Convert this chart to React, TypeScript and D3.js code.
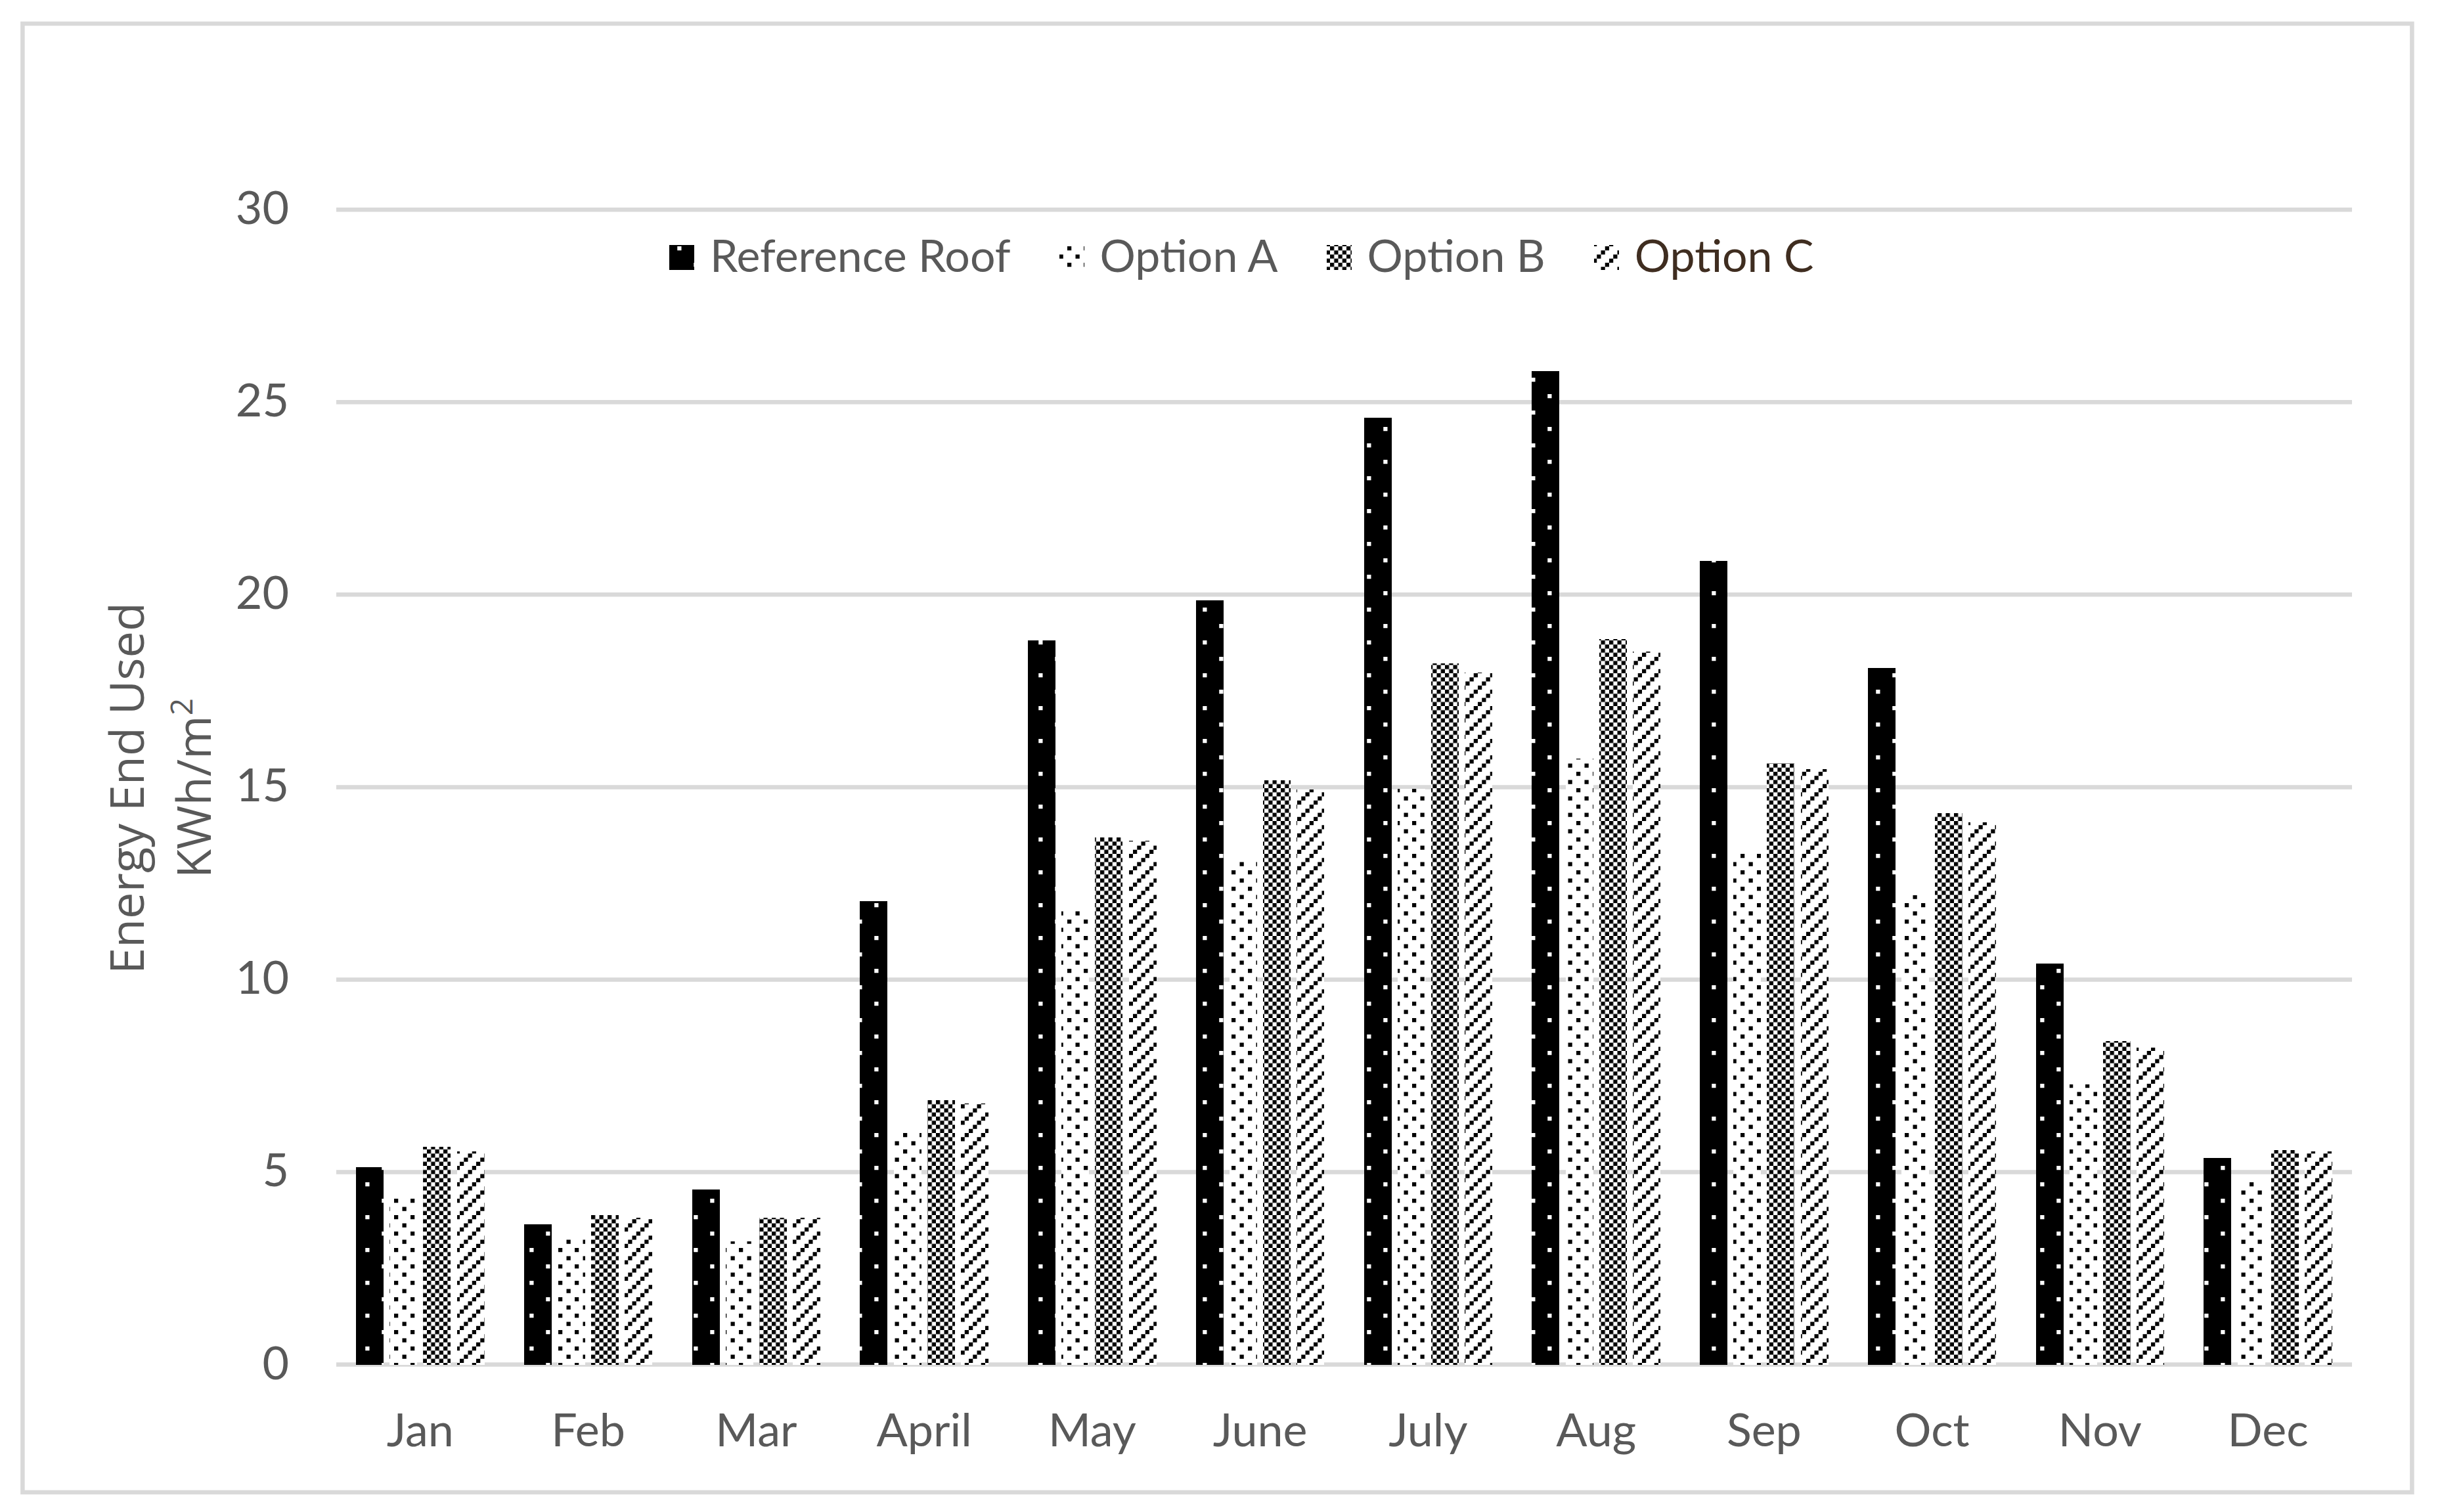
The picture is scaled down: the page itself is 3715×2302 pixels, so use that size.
import React, { useRef, useEffect } from 'react';
import * as d3 from 'd3';

const months = ['Jan', 'Feb', 'Mar', 'April', 'May', 'June', 'July', 'Aug', 'Sep', 'Oct', 'Nov', 'Dec'];
const seriesNames = ['Reference Roof', 'Option A', 'Option B', 'Option C'];
const referenceRoof = [5.13, 3.64, 4.54, 12.03, 18.81, 19.86, 24.59, 25.8, 20.87, 18.09, 10.42, 5.37];
const optionA = [4.35, 3.25, 3.2, 6.06, 11.79, 13.08, 14.95, 15.74, 13.28, 12.19, 7.27, 4.84];
const optionB = [5.65, 3.88, 3.82, 6.86, 13.69, 15.18, 18.21, 18.85, 15.62, 14.33, 8.4, 5.57];
const optionC = [5.53, 3.82, 3.81, 6.78, 13.6, 14.94, 17.97, 18.53, 15.46, 14.09, 8.24, 5.53];
const yTicks = [0, 5, 10, 15, 20, 25, 30];

const W = 3715;
const H = 2302;

const Chart = () => {
  const ref = useRef<SVGSVGElement | null>(null);

  useEffect(() => {
    if (!ref.current) return;
    const svg = d3.select(ref.current);
    svg.selectAll('*').remove();
    svg.attr('width', W).attr('height', H);

    const values = [referenceRoof, optionA, optionB, optionC];
    const textFont = 'Lato, "Open Sans", sans-serif';
    const grey = '#595959';
    const gridColor = '#d9d9d9';

    // 패턴 (Excel 8x8 패턴 흉내)
    const px = 6.25;
    const defs = svg.append('defs');
    const makePattern = (id: string, size: number, bg: string, fg: string, cells: [number, number][]) => {
      const p = defs
        .append('pattern')
        .attr('id', id)
        .attr('patternUnits', 'userSpaceOnUse')
        .attr('width', size * px)
        .attr('height', size * px);
      p.append('rect').attr('width', size * px).attr('height', size * px).attr('fill', bg);
      cells.forEach(([cx, cy]) => {
        p.append('rect')
          .attr('x', cx * px)
          .attr('y', cy * px)
          .attr('width', px)
          .attr('height', px)
          .attr('fill', fg);
      });
    };
    makePattern('pat0', 8, '#000', '#fff', [[1, 0], [5, 4]]);
    makePattern('pat1', 4, '#fff', '#000', [[0, 0], [2, 2]]);
    makePattern('pat2', 2, '#fff', '#000', [[0, 0], [1, 1]]);
    makePattern('pat3', 4, '#fff', '#000', [[3, 0], [2, 1], [1, 2], [0, 3]]);

    // 외곽선
    svg
      .append('rect')
      .attr('x', 34.4)
      .attr('y', 36)
      .attr('width', 3638)
      .attr('height', 2236)
      .attr('fill', '#fff')
      .attr('stroke', gridColor)
      .attr('stroke-width', 6.5);

    const x0 = d3.scaleBand().domain(months).range([512, 3581]).paddingInner(0.2).paddingOuter(0.1);
    const x1 = d3
      .scaleBand()
      .domain(seriesNames)
      .range([0, x0.bandwidth()])
      .paddingInner(0.18)
      .paddingOuter(0.09);
    const y = d3.scaleLinear().domain([0, 30]).range([2077.5, 319.3]);

    // 그리드
    svg
      .append('g')
      .selectAll('line')
      .data(yTicks)
      .enter()
      .append('line')
      .attr('x1', 512)
      .attr('x2', 3581)
      .attr('y1', (d) => y(d))
      .attr('y2', (d) => y(d))
      .attr('stroke', gridColor)
      .attr('stroke-width', 6.5);

    // Y축 레이블
    svg
      .append('g')
      .selectAll('text')
      .data(yTicks)
      .enter()
      .append('text')
      .text((d) => d)
      .attr('x', 440)
      .attr('y', (d) => y(d) + 22)
      .attr('text-anchor', 'end')
      .attr('font-size', 70)
      .attr('fill', grey)
      .style('font-family', textFont);

    // 바
    seriesNames.forEach((s, si) => {
      svg
        .append('g')
        .selectAll('rect')
        .data(values[si])
        .enter()
        .append('rect')
        .attr('x', (_, i) => (x0(months[i]) as number) + (x1(s) as number))
        .attr('y', (d) => y(d))
        .attr('width', x1.bandwidth())
        .attr('height', (d) => y(0) - y(d))
        .attr('fill', `url(#pat${si})`)
        .attr('shape-rendering', 'crispEdges');
    });

    // X축 레이블
    svg
      .append('g')
      .selectAll('text')
      .data(months)
      .enter()
      .append('text')
      .text((d) => d)
      .attr('x', (d) => (x0(d) as number) + x0.bandwidth() / 2)
      .attr('y', 2202)
      .attr('text-anchor', 'middle')
      .attr('font-size', 70)
      .attr('fill', grey)
      .style('font-family', textFont);

    // Y축 제목
    const title = svg
      .append('text')
      .attr('transform', 'translate(219,1200) rotate(-90)')
      .attr('text-anchor', 'middle')
      .attr('font-size', 72)
      .attr('fill', grey)
      .style('font-family', '"Open Sans", sans-serif');
    title.append('tspan').attr('x', 0).attr('y', 0).text('Energy End Used');
    const l2 = title.append('tspan').attr('x', 0).attr('y', 102);
    l2.append('tspan').text('KWh/m');
    l2.append('tspan').attr('font-size', 46).attr('dy', -28).text('2');

    // 범례
    const legend = svg.append('g');
    let lx = 1019;
    seriesNames.forEach((s, si) => {
      legend
        .append('rect')
        .attr('x', lx)
        .attr('y', 373)
        .attr('width', 38)
        .attr('height', 38)
        .attr('fill', `url(#pat${si})`)
        .attr('shape-rendering', 'crispEdges');
      const t = legend
        .append('text')
        .text(s)
        .attr('x', lx + 62)
        .attr('y', 414)
        .attr('font-size', 68)
        .attr('fill', si === 3 ? '#3f2d20' : grey)
        .style('font-family', textFont);
      const tw = (t.node() as SVGTextElement).getComputedTextLength();
      lx += 62 + tw + 74;
    });
  }, []);

  return <svg ref={ref} style={{ position: 'absolute', left: 0, top: 0, display: 'block' }} />;
};

export default function App() {
  return <Chart />;
}
